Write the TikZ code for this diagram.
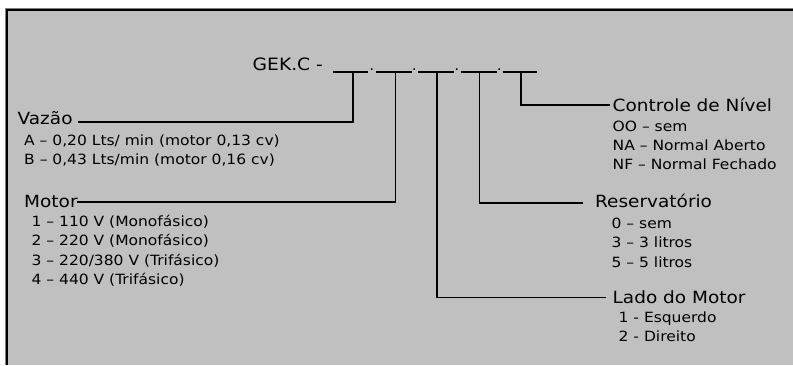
\documentclass[tikz,border=0pt]{standalone}
\usepackage{fontspec}
\setmainfont[FakeStretch=1.1]{DejaVu Sans}
\definecolor{panel}{HTML}{C0C0C0}
\definecolor{rim}{HTML}{808080}
\begin{document}
\begin{tikzpicture}[x=1pt,y=-1pt,
  hdr/.style={anchor=base west,inner sep=0pt,font=\fontsize{16.8}{18}\selectfont},
  itm/.style={anchor=base west,inner sep=0pt,font=\fontsize{14.1}{16}\selectfont},
  conn/.style={line width=1.6pt},
  blank/.style={line width=1.2pt}]
\useasboundingbox (0,0) rectangle (793,365);
\fill[white] (0,0) rectangle (793,365);
\fill[panel] (7,10) rectangle (793,365);
\draw[rim,line width=0.8pt] (5.5,365) -- (5.5,8.5) -- (793,8.5);
\draw[line width=2pt] (7,365) -- (7,10) -- (793,10);

% code line
\node[hdr,font=\fontsize{17}{18}\selectfont] (code) at (252.5,70.7) {GEK.C -};
\draw[blank] (332.7,72) -- (368.3,72);
\draw[blank] (376,72) -- (411.7,72);
\draw[blank] (418.3,72) -- (454,72);
\draw[blank] (460.7,72) -- (496.7,72);
\draw[blank] (502.7,72) -- (537.3,72);
\node[anchor=base,inner sep=0pt,font=\fontsize{14}{16}\selectfont] (d1) at (371.9,70.7) {.};
\node[anchor=base,inner sep=0pt,font=\fontsize{14}{16}\selectfont] (d2) at (414.3,70.7) {.};
\node[anchor=base,inner sep=0pt,font=\fontsize{14}{16}\selectfont] (d3) at (456.7,70.7) {.};
\node[anchor=base,inner sep=0pt,font=\fontsize{14}{16}\selectfont] (d4) at (499.3,70.7) {.};

\coordinate (t1) at (352.7,72);
\coordinate (t2) at (395.3,72);
\coordinate (t3) at (436.7,72);
\coordinate (t4) at (479.3,72);
\coordinate (t5) at (520.7,72);

% Vazao
\node[hdr] (vaz) at (17.5,124.5) {Vazão};
\node[itm] (vazA) at (24,145) {A – 0,20 Lts/ min (motor 0,13 cv)};
\node[itm] (vazB) at (24,164.3) {B – 0,43 Lts/min (motor 0,16 cv)};
\coordinate (cV) at (77.5,122);
\draw[conn] (t1) |- (cV);

% Motor
\node[hdr] (mot) at (24,207.3) {Motor};
\node[itm] (mot1) at (31.5,226.7) {1 – 110 V (Monofásico)};
\node[itm] (mot2) at (31.5,245.9) {2 – 220 V (Monofásico)};
\node[itm] (mot3) at (31.5,265.1) {3 – 220/380 V (Trifásico)};
\node[itm] (mot4) at (31.5,284.3) {4 – 440 V (Trifásico)};
\coordinate (cM) at (76.5,201.7);
\draw[conn] (t2) |- (cM);

% Controle de Nivel
\node[hdr] (ctl) at (612.5,111.5) {Controle de Nível};
\node[itm] (ctl1) at (612.5,131.7) {OO – sem};
\node[itm] (ctl2) at (612.5,150.5) {NA – Normal Aberto};
\node[itm] (ctl3) at (612.5,169.5) {NF – Normal Fechado};
\coordinate (cC) at (610,105);
\draw[conn] (t5) |- (cC);

% Reservatorio
\node[hdr] (res) at (595,207.3) {Reservatório};
\node[itm] (res1) at (611.5,228.3) {0 – sem};
\node[itm] (res2) at (611.5,247.7) {3 – 3 litros};
\node[itm] (res3) at (611.5,267) {5 – 5 litros};
\coordinate (cR) at (583.3,202.7);
\draw[conn] (t4) |- (cR);

% Lado do Motor
\node[hdr] (lad) at (612.5,303.3) {Lado do Motor};
\node[itm] (lad1) at (618.5,322.7) {1 - Esquerdo};
\node[itm] (lad2) at (618.5,341.7) {2 - Direito};
\coordinate (cL) at (605.7,297.3);
\draw[conn] (t3) |- (cL);
\end{tikzpicture}
\end{document}
